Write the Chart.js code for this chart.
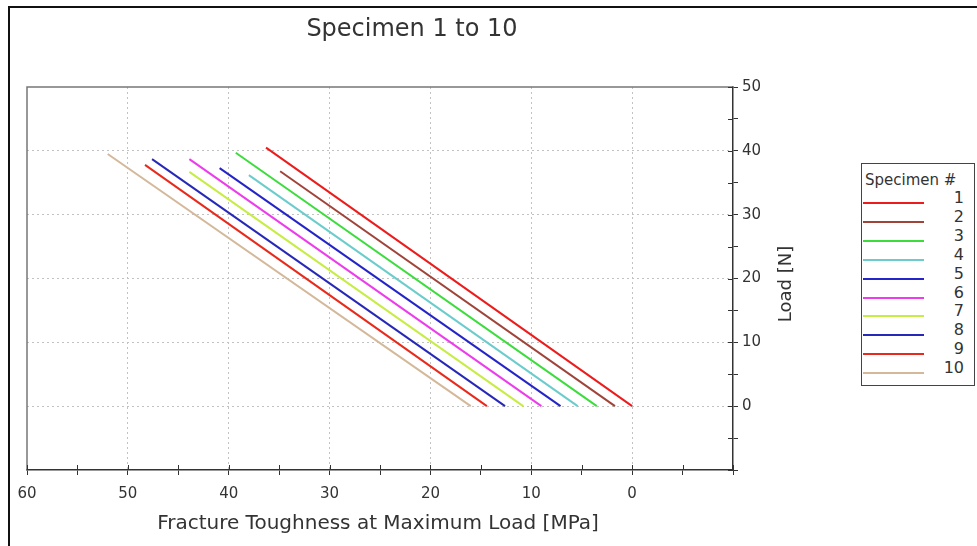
<!DOCTYPE html>
<html>

<head>
    <meta charset="utf-8" />
    <title>Specimen 1 to 10</title>
    <style>
        html, body { margin: 0; padding: 0; background: #fff; overflow: hidden; }
        #wrap { position: relative; width: 977px; height: 546px; }
        #frame { position: absolute; left: 8px; top: 6px; width: 1000px; height: 600px; border: 2px solid #111; }
        #chart { position: absolute; left: 0; top: 0; }
        #legend {
            position: absolute; left: 861px; top: 163px; width: 112px; height: 221px;
            border: 1px solid #444; background: #fff;
            font-family: "DejaVu Sans", Verdana, sans-serif; color: #333;
        }
        #legend .ttl { position: absolute; left: 3px; top: 7px; font-size: 15px; }
        #legend .row { position: absolute; left: 0; width: 112px; height: 18px; }
        #legend .ln { position: absolute; left: 1px; top: 11px; width: 61px; height: 2px; }
        #legend .num { position: absolute; right: 10px; top: -3px; font-size: 16px; }
    </style>
</head>

<body>
    <div id="wrap">
        <div id="frame"></div>
        <canvas id="chart" width="977" height="546"></canvas>
        <div id="legend"><div class="ttl">Specimen #</div></div>
    </div>

    <script src="https://cdn.jsdelivr.net/npm/chart.js"></script>
    <script type="text/javascript">

        // datos
        const specimens = ['1', '2', '3', '4', '5', '6', '7', '8', '9', '10'];
        const colors = ['#ec1c1c', '#a0443a', '#3ddc3d', '#6ccccc', '#2424c8', '#ec3cec', '#c8ec46', '#2828b8', '#e82a1c', '#d4b89a'];
        const toughAtZero = [0, 1.7, 3.5, 5.4, 7.1, 9.0, 10.8, 12.6, 14.4, 16.0];
        const toughAtTop = [36.3, 34.9, 39.3, 38.0, 40.9, 43.9, 43.9, 47.6, 48.3, 52.0];
        const loadTop = [40.5, 36.8, 39.7, 36.2, 37.3, 38.7, 36.7, 38.7, 37.8, 39.5];
        const xTicks = [60, 50, 40, 30, 20, 10, 0];
        const yTicks = [50, 40, 30, 20, 10, 0];

        const FONT = '"DejaVu Sans", Verdana, sans-serif';
        const TXT = '#333';

        const datasets = specimens.map((s, i) => ({
            label: s,
            data: [{ x: toughAtZero[i], y: 0 }, { x: toughAtTop[i], y: loadTop[i] }],
            borderColor: colors[i],
            borderWidth: 2,
            showLine: true,
            pointRadius: 0
        }));

        // leyenda en html
        const legend = document.getElementById('legend');
        specimens.forEach((s, i) => {
            const row = document.createElement('div');
            row.className = 'row';
            row.style.top = (27 + i * 18.9) + 'px';
            row.innerHTML = '<div class="ln" style="background:' + colors[i] + '"></div><div class="num">' + s + '</div>';
            legend.appendChild(row);
        });

        function gridColor(ctx, lo, hi) {
            const v = ctx.tick.value;
            return (v % 10 === 0 && v >= lo && v <= hi) ? '#c2c2c2' : 'rgba(0,0,0,0)';
        }

        // marco, marcas interiores y titulos
        const extras = {
            id: 'extras',
            afterDraw(chart) {
                const c = chart.ctx, a = chart.chartArea;
                const sx = chart.scales.x, sy = chart.scales.y;
                c.save();
                c.strokeStyle = '#777';
                c.lineWidth = 1.5;
                c.beginPath();
                c.moveTo(a.left, a.bottom);
                c.lineTo(a.left, a.top);
                c.lineTo(a.right, a.top);
                c.stroke();

                c.strokeStyle = '#333';
                c.lineWidth = 1;
                c.beginPath();
                sx.ticks.forEach(t => {
                    const px = Math.round(sx.getPixelForValue(t.value)) + 0.5;
                    c.moveTo(px, a.bottom);
                    c.lineTo(px, a.bottom - 5);
                });
                sy.ticks.forEach(t => {
                    const py = Math.round(sy.getPixelForValue(t.value)) + 0.5;
                    c.moveTo(a.right, py);
                    c.lineTo(a.right - 5, py);
                });
                c.stroke();

                c.fillStyle = TXT;
                c.textAlign = 'center';
                c.textBaseline = 'middle';
                c.font = '24px ' + FONT;
                c.fillText('Specimen 1 to 10', 412, 30);
                c.font = '20px ' + FONT;
                c.fillText('Fracture Toughness at Maximum Load [MPa]', 378, 524);
                c.font = '18px ' + FONT;
                c.translate(786, 284);
                c.rotate(-Math.PI / 2);
                c.fillText('Load [N]', 0, 0);
                c.restore();
            }
        };

        new Chart(document.getElementById('chart'), {
            type: 'scatter',
            data: { datasets: datasets },
            options: {
                responsive: false,
                animation: false,
                layout: { padding: { left: 27, top: 87, right: 184, bottom: 26 } },
                plugins: { legend: { display: false }, title: { display: false }, tooltip: { enabled: false } },
                scales: {
                    x: {
                        type: 'linear',
                        reverse: true,
                        min: -10,
                        max: 60,
                        afterFit: s => { s.height = 50; },
                        afterBuildTicks: s => { s.ticks = []; for (let v = 60; v >= -10; v -= 5) s.ticks.push({ value: v }); },
                        ticks: {
                            autoSkip: false,
                            maxRotation: 0,
                            padding: 10,
                            color: TXT,
                            font: { family: FONT, size: 15 },
                            callback: v => xTicks.includes(v) ? String(v) : ''
                        },
                        grid: {
                            color: ctx => gridColor(ctx, 0, 50),
                            tickColor: '#333',
                            tickLength: 5,
                            lineWidth: 1
                        },
                        border: { display: true, color: '#333', width: 1.5, dash: [2, 3] }
                    },
                    y: {
                        type: 'linear',
                        position: 'right',
                        min: -10,
                        max: 50,
                        afterFit: s => { s.width = 60; },
                        afterBuildTicks: s => { s.ticks = []; for (let v = -10; v <= 50; v += 5) s.ticks.push({ value: v }); },
                        ticks: {
                            autoSkip: false,
                            padding: 4,
                            color: TXT,
                            font: { family: FONT, size: 15 },
                            callback: v => yTicks.includes(v) ? String(v) : ''
                        },
                        grid: {
                            color: ctx => gridColor(ctx, 0, 40),
                            tickColor: '#333',
                            tickLength: 5,
                            lineWidth: 1
                        },
                        border: { display: true, color: '#333', width: 1.5, dash: [2, 3] }
                    }
                }
            },
            plugins: [extras]
        });
    </script>

</body>

</html>
